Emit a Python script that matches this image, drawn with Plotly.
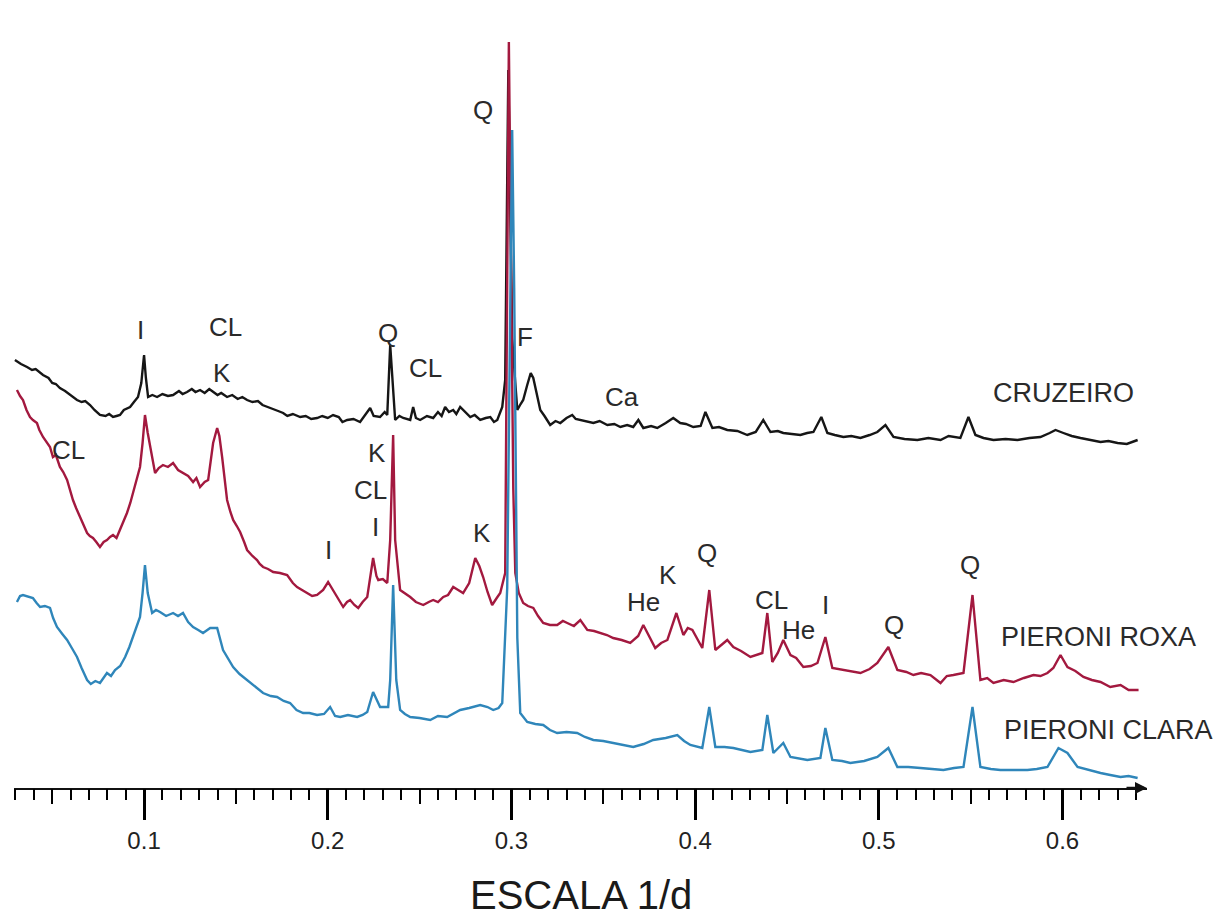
import plotly.graph_objects as go

# ---- data: 1/d (x) and relative intensity (arbitrary units, offset per sample) ----
cruzeiro_x = [0.0297, 0.0330, 0.0363, 0.0390, 0.0410, 0.0450, 0.0480, 0.0500, 0.0520, 0.0542,
              0.0570, 0.0600, 0.0635, 0.0660, 0.0680, 0.0706, 0.0730, 0.0760, 0.0790, 0.0810,
              0.0831, 0.0850, 0.0869, 0.0890, 0.0924, 0.0945, 0.0967, 0.0985, 0.1000, 0.1010,
              0.1022, 0.1045, 0.1071, 0.1100, 0.1130, 0.1158, 0.1190, 0.1210, 0.1234, 0.1260,
              0.1280, 0.1305, 0.1330, 0.1355, 0.1376, 0.1400, 0.1420, 0.1452, 0.1480, 0.1510,
              0.1535, 0.1561, 0.1590, 0.1620, 0.1645, 0.1670, 0.1700, 0.1730, 0.1757, 0.1780,
              0.1810, 0.1850, 0.1880, 0.1910, 0.1942, 0.1970, 0.2000, 0.2029, 0.2060, 0.2080,
              0.2106, 0.2140, 0.2176, 0.2200, 0.2231, 0.2250, 0.2285, 0.2310, 0.2324, 0.2340,
              0.2367, 0.2390, 0.2411, 0.2449, 0.2465, 0.2480, 0.2503, 0.2540, 0.2574, 0.2600,
              0.2620, 0.2639, 0.2660, 0.2683, 0.2700, 0.2721, 0.2750, 0.2776, 0.2800, 0.2830,
              0.2860, 0.2885, 0.2905, 0.2923, 0.2950, 0.2966, 0.2983, 0.3004, 0.3021, 0.3032,
              0.3050, 0.3064, 0.3086, 0.3105, 0.3119, 0.3140, 0.3157, 0.3180, 0.3211, 0.3240,
              0.3266, 0.3300, 0.3331, 0.3350, 0.3375, 0.3410, 0.3446, 0.3480, 0.3522, 0.3560,
              0.3593, 0.3630, 0.3663, 0.3691, 0.3718, 0.3760, 0.3794, 0.3840, 0.3881, 0.3919,
              0.3950, 0.3990, 0.4030, 0.4056, 0.4094, 0.4130, 0.4175, 0.4230, 0.4284, 0.4330,
              0.4371, 0.4410, 0.4450, 0.4480, 0.4530, 0.4573, 0.4610, 0.4644, 0.4687, 0.4720,
              0.4760, 0.4807, 0.4850, 0.4900, 0.4950, 0.4992, 0.5036, 0.5080, 0.5140, 0.5210,
              0.5270, 0.5336, 0.5380, 0.5406, 0.5444, 0.5488, 0.5526, 0.5570, 0.5624, 0.5690,
              0.5755, 0.5820, 0.5880, 0.5930, 0.5962, 0.6005, 0.6050, 0.6098, 0.6150, 0.6207,
              0.6250, 0.6300, 0.6350, 0.6409]
cruzeiro_y = [428, 424, 421, 418, 419, 413, 410, 405, 404, 400,
              397, 393, 388, 386, 387, 383, 378, 373, 372, 374,
              371, 372, 373, 378, 381, 386, 391, 405, 433, 410,
              391, 393, 391, 394, 392, 393, 397, 394, 396, 399,
              396, 398, 395, 399, 396, 393, 395, 391, 393, 389,
              391, 388, 386, 387, 383, 381, 379, 377, 375, 372,
              374, 371, 372, 369, 370, 372, 370, 373, 371, 366,
              368, 369, 366, 372, 380, 372, 371, 376, 373, 443,
              368, 372, 370, 368, 381, 370, 368, 372, 370, 376,
              372, 381, 376, 378, 374, 381, 376, 371, 373, 368,
              370, 371, 366, 368, 381, 408, 718, 450, 405, 378,
              384, 388, 403, 415, 410, 393, 378, 372, 363, 367,
              365, 370, 373, 369, 368, 366, 365, 367, 363, 364,
              361, 363, 361, 368, 360, 362, 360, 365, 370, 365,
              364, 361, 362, 376, 360, 361, 358, 357, 353, 356,
              368, 356, 357, 355, 354, 353, 355, 356, 371, 355,
              353, 351, 352, 350, 353, 356, 363, 351, 349, 348,
              350, 348, 352, 351, 350, 371, 353, 350, 348, 349,
              348, 350, 351, 355, 358, 355, 352, 350, 348, 346,
              347, 345, 344, 348]

roxa_x = [0.0308, 0.0325, 0.0341, 0.0360, 0.0379, 0.0395, 0.0417, 0.0430, 0.0450, 0.0470,
          0.0488, 0.0504, 0.0520, 0.0542, 0.0560, 0.0581, 0.0600, 0.0613, 0.0630, 0.0651,
          0.0670, 0.0690, 0.0705, 0.0722, 0.0740, 0.0760, 0.0780, 0.0798, 0.0815, 0.0831,
          0.0850, 0.0869, 0.0890, 0.0907, 0.0925, 0.0940, 0.0960, 0.0978, 0.0992, 0.1005,
          0.1020, 0.1033, 0.1047, 0.1060, 0.1080, 0.1103, 0.1130, 0.1158, 0.1185, 0.1212,
          0.1240, 0.1267, 0.1285, 0.1305, 0.1330, 0.1349, 0.1376, 0.1398, 0.1410, 0.1425,
          0.1452, 0.1470, 0.1485, 0.1505, 0.1523, 0.1545, 0.1561, 0.1590, 0.1615, 0.1630,
          0.1648, 0.1675, 0.1703, 0.1740, 0.1779, 0.1810, 0.1833, 0.1860, 0.1888, 0.1915,
          0.1942, 0.1975, 0.2002, 0.2030, 0.2051, 0.2084, 0.2105, 0.2122, 0.2145, 0.2166,
          0.2190, 0.2215, 0.2247, 0.2265, 0.2275, 0.2300, 0.2324, 0.2340, 0.2356, 0.2367,
          0.2394, 0.2420, 0.2449, 0.2480, 0.2520, 0.2550, 0.2574, 0.2600, 0.2629, 0.2655,
          0.2683, 0.2710, 0.2737, 0.2770, 0.2803, 0.2825, 0.2846, 0.2870, 0.2895, 0.2920,
          0.2939, 0.2966, 0.2977, 0.2986, 0.2996, 0.3010, 0.3021, 0.3040, 0.3064, 0.3090,
          0.3119, 0.3145, 0.3173, 0.3210, 0.3249, 0.3280, 0.3304, 0.3340, 0.3375, 0.3413,
          0.3450, 0.3484, 0.3520, 0.3554, 0.3600, 0.3647, 0.3690, 0.3718, 0.3750, 0.3783,
          0.3815, 0.3849, 0.3898, 0.3936, 0.3960, 0.3985, 0.4039, 0.4077, 0.4110, 0.4140,
          0.4175, 0.4208, 0.4250, 0.4301, 0.4366, 0.4393, 0.4420, 0.4450, 0.4480, 0.4519,
          0.4550, 0.4589, 0.4630, 0.4666, 0.4709, 0.4747, 0.4807, 0.4850, 0.4900, 0.4950,
          0.4992, 0.5052, 0.5101, 0.5150, 0.5188, 0.5230, 0.5281, 0.5336, 0.5370, 0.5406,
          0.5461, 0.5510, 0.5553, 0.5590, 0.5624, 0.5680, 0.5733, 0.5790, 0.5842, 0.5880,
          0.5918, 0.5950, 0.5989, 0.6027, 0.6070, 0.6114, 0.6160, 0.6207, 0.6260, 0.6316,
          0.6360, 0.6414]
roxa_y = [398, 392, 388, 378, 371, 368, 365, 358, 351, 346,
          341, 331, 333, 321, 316, 308, 296, 288, 280, 271,
          262, 255, 252, 250, 246, 241, 246, 248, 251, 253,
          250, 258, 266, 275, 285, 295, 308, 321, 345, 373,
          355, 341, 325, 315, 320, 323, 321, 325, 318, 315,
          312, 306, 310, 301, 306, 308, 345, 360, 352, 331,
          288, 276, 268, 262, 256, 246, 238, 232, 228, 224,
          221, 219, 216, 215, 213, 205, 201, 198, 195, 192,
          193, 198, 206, 197, 191, 181, 186, 188, 183, 180,
          186, 191, 230, 212, 208, 209, 205, 248, 353, 248,
          198, 195, 191, 186, 183, 186, 188, 186, 191, 193,
          201, 198, 195, 205, 230, 222, 211, 196, 183, 190,
          195, 215, 560, 746, 560, 300, 215, 195, 185, 182,
          180, 172, 165, 163, 163, 167, 165, 162, 168, 158,
          157, 155, 153, 150, 148, 145, 152, 163, 152, 140,
          145, 148, 175, 153, 160, 158, 140, 198, 138, 143,
          148, 141, 137, 131, 135, 175, 126, 135, 148, 133,
          130, 121, 122, 125, 151, 120, 118, 117, 115, 119,
          125, 141, 118, 116, 113, 115, 113, 105, 112, 113,
          115, 193, 108, 110, 105, 108, 106, 110, 113, 112,
          115, 120, 133, 121, 117, 111, 108, 106, 101, 103,
          98, 98]

clara_x = [0.0308, 0.0325, 0.0341, 0.0370, 0.0395, 0.0415, 0.0434, 0.0460, 0.0488, 0.0505,
           0.0526, 0.0555, 0.0581, 0.0610, 0.0635, 0.0660, 0.0690, 0.0710, 0.0735, 0.0760,
           0.0780, 0.0798, 0.0820, 0.0842, 0.0870, 0.0897, 0.0920, 0.0940, 0.0960, 0.0978,
           0.0992, 0.1005, 0.1020, 0.1044, 0.1065, 0.1087, 0.1120, 0.1158, 0.1185, 0.1212,
           0.1240, 0.1267, 0.1295, 0.1321, 0.1360, 0.1398, 0.1430, 0.1460, 0.1485, 0.1520,
           0.1561, 0.1600, 0.1648, 0.1690, 0.1724, 0.1760, 0.1795, 0.1830, 0.1866, 0.1900,
           0.1942, 0.1980, 0.2013, 0.2040, 0.2068, 0.2110, 0.2160, 0.2190, 0.2215, 0.2247,
           0.2285, 0.2329, 0.2340, 0.2356, 0.2373, 0.2394, 0.2420, 0.2449, 0.2500, 0.2558,
           0.2600, 0.2650, 0.2690, 0.2721, 0.2770, 0.2830, 0.2870, 0.2901, 0.2930, 0.2950,
           0.2977, 0.2993, 0.3004, 0.3015, 0.3032, 0.3048, 0.3086, 0.3130, 0.3173, 0.3210,
           0.3249, 0.3300, 0.3358, 0.3400, 0.3446, 0.3500, 0.3554, 0.3610, 0.3663, 0.3720,
           0.3772, 0.3840, 0.3903, 0.3940, 0.3974, 0.4039, 0.4077, 0.4110, 0.4160, 0.4208,
           0.4250, 0.4301, 0.4366, 0.4393, 0.4426, 0.4480, 0.4519, 0.4560, 0.4611, 0.4682,
           0.4709, 0.4747, 0.4800, 0.4845, 0.4920, 0.4992, 0.5052, 0.5101, 0.5160, 0.5227,
           0.5290, 0.5352, 0.5410, 0.5461, 0.5510, 0.5553, 0.5610, 0.5662, 0.5740, 0.5809,
           0.5860, 0.5918, 0.5978, 0.6027, 0.6082, 0.6140, 0.6207, 0.6260, 0.6316, 0.6360,
           0.6409]
clara_y = [186, 192, 193, 191, 190, 185, 181, 182, 180, 170,
           161, 154, 148, 139, 131, 120, 108, 104, 107, 105,
           110, 115, 112, 118, 122, 131, 141, 151, 160, 171,
           195, 223, 195, 175, 178, 176, 172, 175, 172, 175,
           166, 161, 158, 155, 160, 160, 138, 128, 121, 114,
           108, 102, 95, 92, 91, 87, 85, 78, 75, 75,
           73, 74, 81, 72, 71, 73, 71, 73, 76, 96,
           81, 81, 108, 203, 108, 78, 74, 71, 70, 68,
           72, 71, 75, 78, 80, 83, 81, 78, 80, 85,
           200, 500, 658, 500, 150, 75, 66, 64, 63, 58,
           55, 56, 55, 51, 48, 47, 45, 43, 41, 44,
           48, 50, 53, 47, 43, 40, 81, 41, 41, 40,
           38, 36, 38, 73, 35, 45, 31, 30, 28, 30,
           60, 28, 27, 25, 27, 31, 40, 21, 21, 20,
           19, 18, 20, 21, 81, 21, 19, 18, 18, 18,
           19, 21, 40, 35, 21, 18, 15, 13, 11, 12,
           10]

series_names = ["CRUZEIRO", "PIERONI ROXA", "PIERONI CLARA"]
series_colors = ["#161616", "#a3193f", "#2f86ba"]

# peak labels: (text, x, y)
peak_text = ["Q", "I", "CL", "K", "Q", "CL", "F", "Ca",
             "CL", "K", "CL", "I", "I", "K", "He", "K", "Q", "CL", "He", "I", "Q", "Q"]
peak_x = [0.2846, 0.0978, 0.1441, 0.1425, 0.2329, 0.2530, 0.3075, 0.3603,
          0.0586, 0.2269, 0.2231, 0.2258, 0.2002, 0.2841, 0.3718, 0.3854, 0.4066, 0.4415,
          0.4562, 0.4709, 0.5080, 0.5499]
peak_y = [678, 458, 461, 415, 455, 420, 451, 391,
          338, 335, 298, 261, 238, 255, 186, 213, 235, 188,
          158, 183, 163, 223]

name_x = [0.6005, 0.6196, 0.6251]
name_y = [395, 151, 58]

major_ticks = [0.1, 0.2, 0.3, 0.4, 0.5, 0.6]
mid_ticks = [0.05, 0.15, 0.25, 0.35, 0.45, 0.55]

fig = go.Figure()
for xs, ys, nm, col in zip([cruzeiro_x, roxa_x, clara_x], [cruzeiro_y, roxa_y, clara_y],
                           series_names, series_colors):
    fig.add_trace(go.Scatter(x=xs, y=ys, mode="lines", name=nm,
                             line=dict(color=col, width=2.4), showlegend=False))

# invisible traces anchoring the overlay tick axes
for ax_id in ["x2", "x3", "x4"]:
    fig.add_trace(go.Scatter(x=[0.1], y=[0], xaxis=ax_id, mode="markers",
                             marker=dict(opacity=0), showlegend=False, hoverinfo="skip"))

font_main = "Liberation Sans, Arial, sans-serif"
ann = []
for t, x, y in zip(peak_text, peak_x, peak_y):
    ann.append(dict(x=x, y=y, text=t, showarrow=False, xanchor="center", yanchor="middle",
                    font=dict(family=font_main, size=26, color="#2a2a2a")))
for t, x, y in zip(series_names, name_x, name_y):
    ann.append(dict(x=x, y=y, text=t, showarrow=False, xanchor="center", yanchor="middle",
                    font=dict(family=font_main, size=27, color="#2a2a2a")))
# axis arrow head
ann.append(dict(x=0.6460, y=0, ax=-22, ay=0, text="", showarrow=True, arrowhead=2,
                arrowsize=1, arrowwidth=2.4, arrowcolor="#111111", standoff=0))
# axis title
ann.append(dict(x=0.5, y=-0.136, xref="paper", yref="paper", text="ESCALA 1/d",
                showarrow=False, xanchor="center", yanchor="middle",
                font=dict(family=font_main, size=40, color="#1a1a1a")))

xr = [0.0292, 0.6460]
overlay = dict(range=xr, overlaying="x", side="bottom", anchor="y", showticklabels=False,
               showline=False, showgrid=False, zeroline=False, ticks="outside",
               tickcolor="#000000")
fig.update_layout(
    width=1227, height=922,
    margin=dict(l=14, r=80, t=0, b=134),
    paper_bgcolor="white", plot_bgcolor="white",
    annotations=ann,
    xaxis=dict(range=xr, ticks="outside", tickmode="linear", tick0=0.0, dtick=0.1,
               ticklen=30, tickwidth=2.6, tickcolor="#000000",
               showgrid=False, zeroline=False, tickformat=".1f",
               showline=True, linecolor="#111111", linewidth=2.4,
               tickfont=dict(family=font_main, size=24, color="#222222")),
    xaxis2=dict(**overlay, tickmode="linear", tick0=0.0, dtick=0.01, ticklen=11,
                tickwidth=2),
    xaxis3=dict(**overlay, tickmode="array", tickvals=mid_ticks, ticklen=15,
                tickwidth=2),
    xaxis4=dict(**overlay, tickmode="array", tickvals=major_ticks, ticklen=30,
                tickwidth=2.6),
    yaxis=dict(range=[0, 788], visible=False, fixedrange=True),
)

fig.write_html("out.html")
